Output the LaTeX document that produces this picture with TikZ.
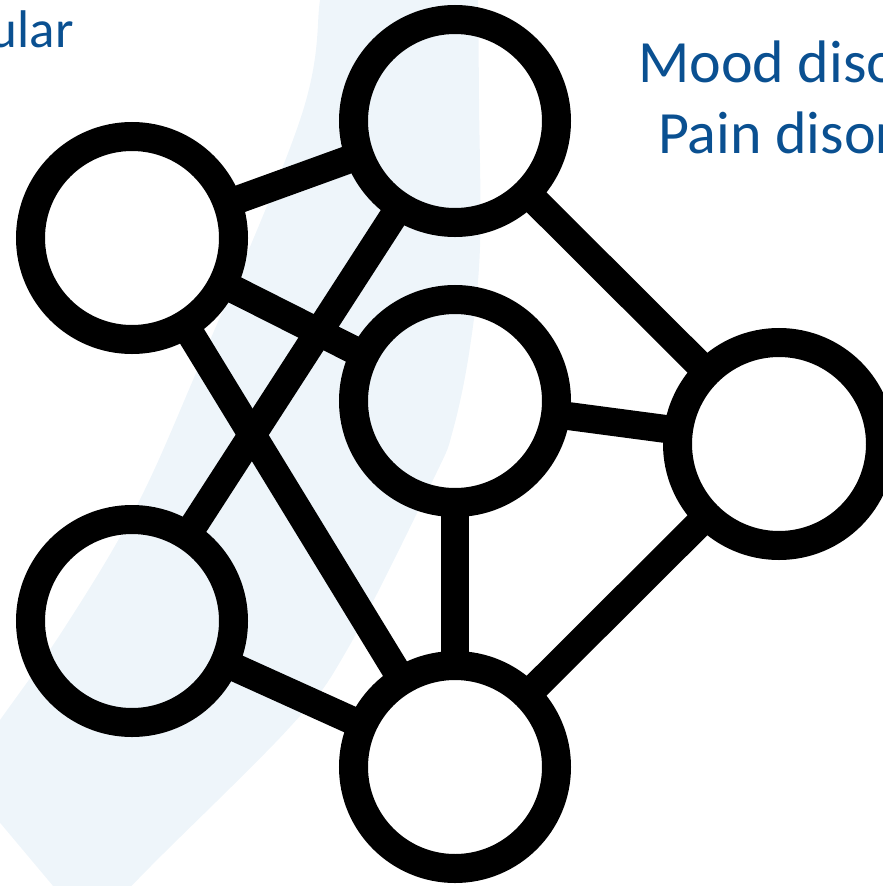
\documentclass[tikz,border=0pt]{standalone}
\usepackage{fontspec}
\setmainfont{Carlito}
\definecolor{bandblue}{RGB}{238,245,250}
\definecolor{textblue}{RGB}{10,80,145}
\begin{document}
\begin{tikzpicture}[x=1pt,y=-1pt,
  netnode/.style={circle, draw=black, line width=29pt, minimum size=203pt, inner sep=0pt},
  link/.style={draw=black, line width=28pt, shorten <=-14pt, shorten >=-14pt},
  lbl/.style={text=textblue, inner sep=0pt}]
\useasboundingbox (0,0) rectangle (883,886);
\clip (0,0) rectangle (883,886);
% background band
\fill[bandblue] plot[smooth, tension=0.6] coordinates {(323,-20) (320,0) (300,120) (193,380) (133,513) (63,630) (0,720) (-40,775)}
  -- plot[smooth, tension=0.6] coordinates {(90,930) (150,867) (290,727) (347,650) (433,480) (453,430) (470,347) (480,247) (479,100) (478,-20)} -- cycle;
% texts
\node[lbl, anchor=base east] (t1) at (74,47) {\fontsize{53}{53}\selectfont ular};
\node[lbl, anchor=base west] (t2) at (638,82) {\fontsize{60}{60}\selectfont Mood diso};
\node[lbl, anchor=base west] (t3) at (658,153) {\fontsize{60}{60}\selectfont Pain disor};
% nodes
\node[netnode] (A) at (132,238) {};
\node[netnode] (B) at (455,121) {};
\node[netnode] (C) at (455,401) {};
\node[netnode] (D) at (779,444) {};
\node[netnode] (E) at (132,621) {};
\node[netnode] (F) at (455,767) {};
% links
\path[link] (A) -- (B);
\path[link] (A) -- (C);
\path[link] (A) -- (F);
\path[link] (B) -- (E);
\path[link] (B) -- (D);
\path[link] (C) -- (D);
\path[link] (C) -- (F);
\path[link] (E) -- (F);
\path[link] (D) -- (F);
\end{tikzpicture}
\end{document}
